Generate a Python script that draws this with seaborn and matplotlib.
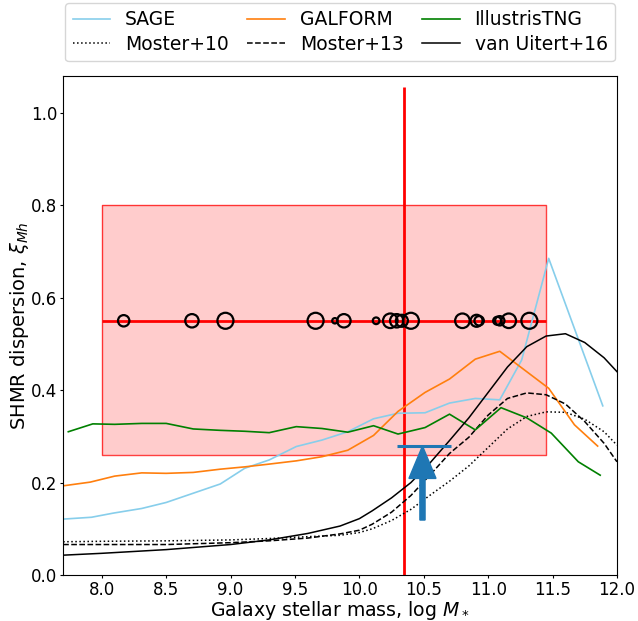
import numpy as np
import pandas as pd
import seaborn as sns
import matplotlib.pyplot as plt

# model curves (SHMR dispersion vs stellar mass)
sage_mass = [7.70, 7.92, 8.09, 8.31, 8.50, 8.71, 8.92, 9.11, 9.30, 9.51, 9.71, 9.91,
             10.11, 10.30, 10.51, 10.70, 10.90, 11.09, 11.26, 11.47, 11.89]
sage_xi = [0.121, 0.125, 0.134, 0.144, 0.157, 0.177, 0.197, 0.231, 0.249, 0.278, 0.292, 0.310,
           0.338, 0.350, 0.351, 0.372, 0.382, 0.379, 0.465, 0.685, 0.366]

galform_mass = [7.70, 7.91, 8.10, 8.31, 8.50, 8.71, 8.92, 9.11, 9.30, 9.51, 9.71, 9.91,
                10.11, 10.30, 10.51, 10.70, 10.90, 11.09, 11.47, 11.67, 11.85]
galform_xi = [0.193, 0.201, 0.214, 0.221, 0.220, 0.222, 0.229, 0.234, 0.240, 0.247, 0.256, 0.270,
              0.302, 0.354, 0.395, 0.424, 0.467, 0.484, 0.404, 0.325, 0.279]

tng_mass = [7.74, 7.93, 8.10, 8.31, 8.50, 8.71, 8.92, 9.11, 9.30, 9.51, 9.71, 9.91,
            10.11, 10.30, 10.51, 10.70, 10.90, 11.10, 11.30, 11.49, 11.70, 11.87]
tng_xi = [0.310, 0.327, 0.326, 0.328, 0.328, 0.316, 0.313, 0.311, 0.308, 0.321, 0.317, 0.309,
          0.323, 0.305, 0.319, 0.348, 0.314, 0.362, 0.340, 0.307, 0.245, 0.216]

# empirical models
emp_mass = [7.70, 8.00, 8.50, 9.00, 9.30, 9.60, 9.85, 10.00, 10.10, 10.25, 10.40, 10.55,
            10.70, 10.85, 11.00, 11.15, 11.30, 11.45, 11.60, 11.75, 11.90, 12.00]
moster10_xi = [0.072, 0.073, 0.074, 0.076, 0.079, 0.083, 0.086, 0.092, 0.100, 0.118, 0.142, 0.173,
               0.203, 0.236, 0.276, 0.316, 0.343, 0.353, 0.352, 0.337, 0.310, 0.281]
moster13_xi = [0.066, 0.066, 0.066, 0.070, 0.074, 0.080, 0.089, 0.097, 0.110, 0.136, 0.172, 0.217,
               0.263, 0.298, 0.346, 0.382, 0.394, 0.390, 0.370, 0.332, 0.285, 0.245]
uitert16_xi = [0.043, 0.047, 0.055, 0.066, 0.076, 0.090, 0.106, 0.122, 0.139, 0.167, 0.200, 0.243,
               0.291, 0.340, 0.395, 0.450, 0.494, 0.517, 0.522, 0.503, 0.470, 0.440]

# observed systems
obs_mass = [8.17, 8.70, 8.96, 9.66, 9.81, 9.88, 10.13, 10.24, 10.29, 10.33, 10.40,
            10.80, 10.91, 10.93, 11.07, 11.09, 11.16, 11.32]
obs_weight = [67, 93, 133, 133, 15, 93, 23, 110, 93, 75, 133,
              110, 75, 46, 33, 46, 110, 133]
obs_xi = 0.55
box_mass = [8.0, 11.45]
box_xi = [0.26, 0.80]
mass_cut = 10.35

# lower limit
limit_mass = 10.49
limit_xi = 0.279
limit_range = [10.29, 10.71]
limit_base = 0.119

plt.rcParams['font.size'] = 12
fig = plt.figure(figsize=(6.38, 6.21), dpi=100)
ax = fig.add_axes([0.099, 0.074, 0.868, 0.804])

ax.fill_between(box_mass, box_xi[0], box_xi[1], facecolor='red', alpha=0.2, zorder=1)
ax.fill_between(box_mass, box_xi[0], box_xi[1], facecolor='none', edgecolor='red',
                alpha=0.75, lw=1, zorder=1)
ax.hlines(obs_xi, box_mass[0], box_mass[1], color='red', lw=2, zorder=2)
ax.vlines(mass_cut, 0, 1.055, color='red', lw=2, zorder=2)

obs = pd.DataFrame({'mass': obs_mass, 'xi': obs_xi, 'w': obs_weight})
ax.scatter(obs['mass'], obs['xi'], s=obs['w'], facecolors='none', edgecolors='black',
           linewidths=1.6, zorder=3)

sns.lineplot(x=sage_mass, y=sage_xi, ax=ax, color='skyblue', lw=1.2, label='SAGE')
sns.lineplot(x=emp_mass, y=moster10_xi, ax=ax, color='black', lw=1.1, ls=':', label='Moster+10')
sns.lineplot(x=galform_mass, y=galform_xi, ax=ax, color='tab:orange', lw=1.2, label='GALFORM')
sns.lineplot(x=emp_mass, y=moster13_xi, ax=ax, color='black', lw=1.1, ls='--', label='Moster+13')
sns.lineplot(x=tng_mass, y=tng_xi, ax=ax, color='green', lw=1.2, label='IllustrisTNG')
sns.lineplot(x=emp_mass, y=uitert16_xi, ax=ax, color='black', lw=1.1, label='van Uitert+16')

ax.hlines(limit_xi, limit_range[0], limit_range[1], color='tab:blue', lw=2.2, zorder=4)
ax.arrow(limit_mass, limit_base, 0, limit_xi - limit_base, width=0.04, head_width=0.21,
         head_length=0.07, length_includes_head=True, color='tab:blue', zorder=4)

ax.set_xlim(7.7, 12.0)
ax.set_ylim(0, 1.08)
ax.set_xticks(np.arange(8.0, 12.01, 0.5))
ax.set_xticklabels([f'{t:.1f}' for t in np.arange(8.0, 12.01, 0.5)])
ax.set_yticks(np.arange(0, 1.01, 0.2))
ax.set_yticklabels([f'{t:.1f}' for t in np.arange(0, 1.01, 0.2)])
ax.tick_params(length=2, pad=2, labelsize=12)
ax.set_xlabel(r'Galaxy stellar mass, log $M_*$', fontsize=13.6, labelpad=0)
ax.set_ylabel(r'SHMR dispersion, $\xi_{Mh}$', fontsize=14, labelpad=0)

ax.legend(loc='lower left', bbox_to_anchor=(0, 1.025, 1, 0.2), mode='expand', ncol=3,
          fontsize=13.5, borderaxespad=0.1, labelspacing=0.3)

plt.savefig('out.png')
